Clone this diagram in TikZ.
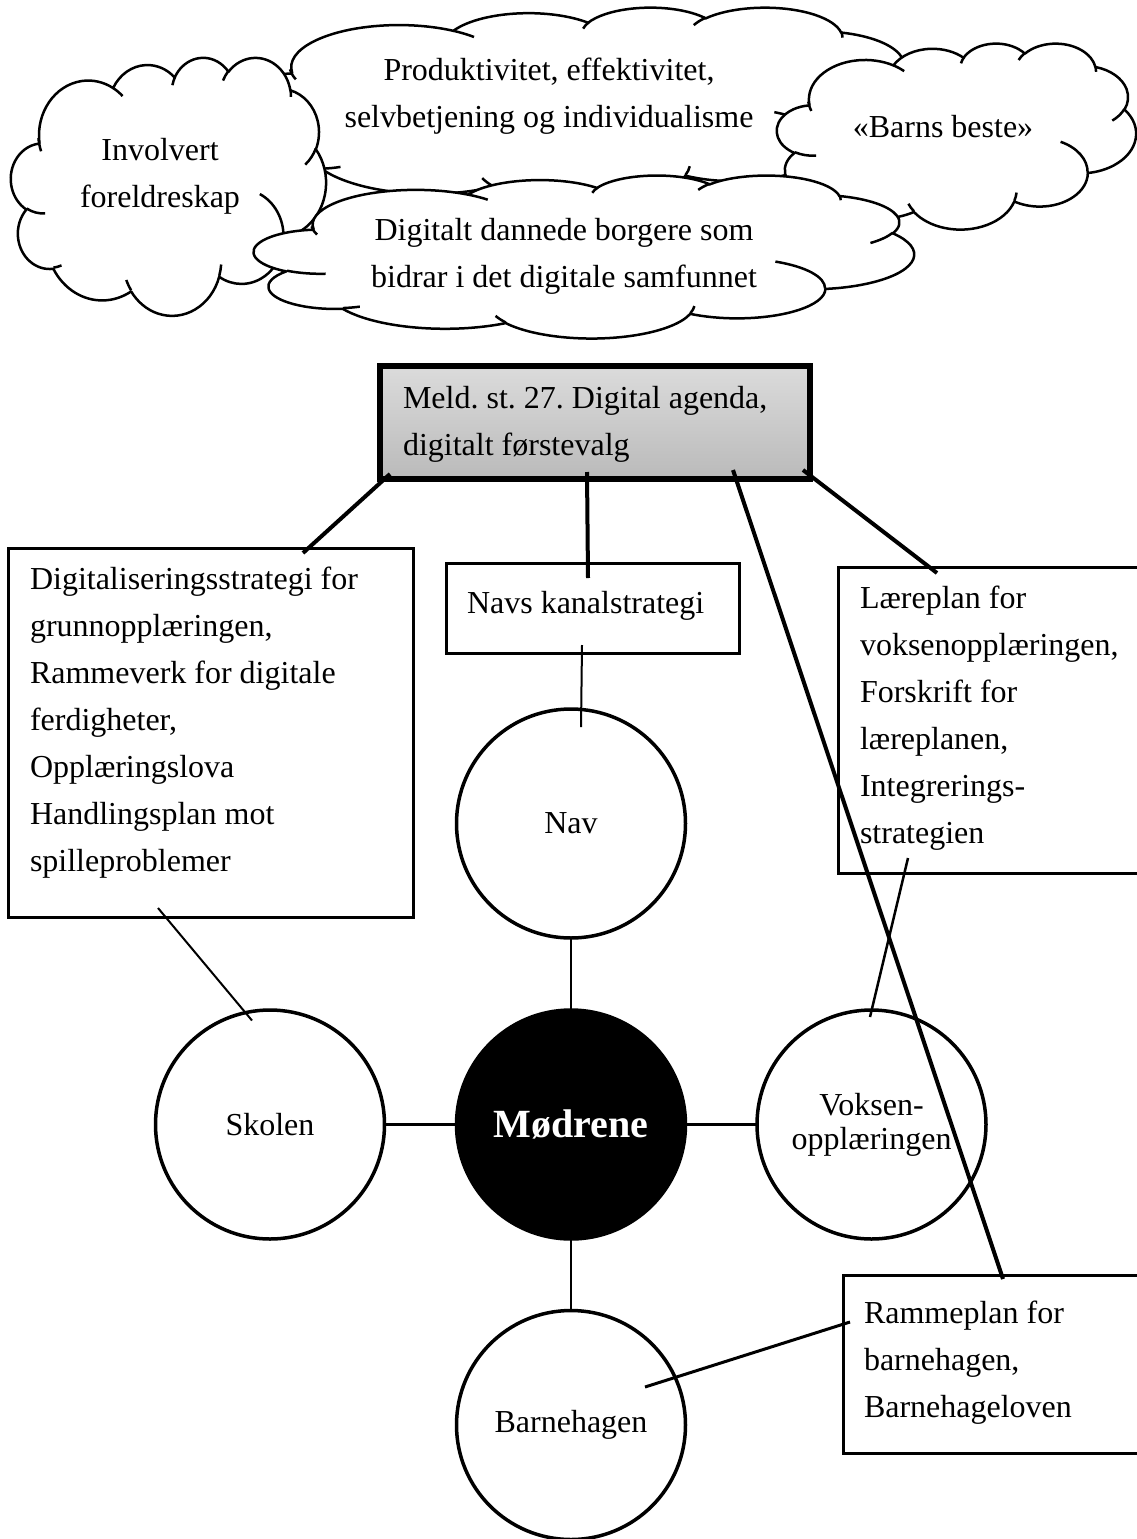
\documentclass[tikz,border=0pt]{standalone}
\usepackage{fontspec}
\setmainfont{Liberation Serif}
\usetikzlibrary{calc}
\tikzset{
  warc/.style n args={4}{insert path={arc[start angle={atan2((#1)*sin(#3),(#2)*cos(#3))}, delta angle={mod(atan2((#1)*sin((#3)+(#4)),(#2)*cos((#3)+(#4)))-atan2((#1)*sin(#3),(#2)*cos(#3))+720,360)}, x radius=#1, y radius=#2]}},
  cloudline/.style={line width=2.5pt, line join=round}
}
\newcommand\wordcloud[4]{%
\begin{scope}[shift={(#1,#2)}, xscale={#3/4320}, yscale={#4/4320}]
\draw[cloudline, fill=white] (390,1437)
  [warc={675.3}{919.0}{-190.48748}{123.78053}]
  [warc={533.3}{726.7}{-144.10238}{89.94523}]
  [warc={436.5}{594.5}{-145.80792}{99.72302}]
  [warc={485.7}{659.5}{-130.98607}{117.24173}]
  [warc={533.3}{727.3}{-78.70888}{109.02692}]
  [warc={677.5}{922.0}{-46.26725}{130.269}]
  [warc={578.5}{786.7}{0.62502}{114.03333}]
  [warc={675.2}{921.5}{22.4516}{115.17255}]
  [warc={772.0}{1054.3}{66.24263}{75.71102}]
  [warc={436.0}{591.8}{-274.94208}{146.73557}]
  [warc={434.5}{594.5}{-246.8285}{152.51885}] -- cycle;
\draw[cloudline]
  (469.3,2617.7) [warc={434.5}{594.5}{86.742}{26.4295}]
  (692.8,3489.9) [warc={436.0}{591.8}{73.61047}{11.44747}]
  (1647.8,3909.0) [warc={675.2}{921.5}{137.62415}{14.0811}]
  (2882.7,3475.1) [warc={675.2}{921.5}{6.45327}{15.99835}]
  (3412.9,2295.4) [warc={578.5}{786.7}{-70.29235}{70.91737}]
  (4179.8,1535.4) [warc={533.3}{727.3}{30.31803}{27.7515}]
  (3832.4,542.6) [warc={485.7}{659.5}{-13.74433}{14.8589}]
  (2907.8,395.2) [warc={485.7}{659.5}{-149.18145}{18.19537}]
  (2214.1,472.0) [warc={436.5}{594.5}{-163.49427}{17.68635}]
  (1400.0,519.2) [warc={675.3}{919.0}{-66.70695}{12.31935}]
  (412.7,1578.9) [warc={675.3}{919.0}{153.94407}{18.31942}];
\end{scope}}
\begin{document}
\begin{tikzpicture}[x=1pt,y=-1pt,
  every node/.style={outer sep=0pt},
  txt/.style={font=\fontsize{32}{47}\selectfont\frenchspacing, inner sep=0pt, align=center},
  docbox/.style={draw, fill=white, line width=3pt, rectangle, anchor=north west, inner ysep=0pt, align=flush left, font=\fontsize{32}{47}\selectfont\frenchspacing},
  actor/.style={circle, draw, fill=white, line width=3.5pt, minimum size=229pt, inner sep=0pt, font=\fontsize{32}{34}\selectfont, align=center},
  heavylink/.style={line width=4pt},
  lightlink/.style={line width=2.5pt}
]
\useasboundingbox (0,0) rectangle (1137,1539);
\fill[white] (0,0) rectangle (1137,1539);
\clip (0,0) rectangle (1137,1539);

% clouds (Word cloud outline, drawn back to front)
\wordcloud{230}{7}{689}{198}
\wordcloud{777}{43}{359}{186}
\wordcloud{11}{57}{315}{258}
\wordcloud{254}{175}{660}{163}

\node[txt] (tprod) at (549,96) {Produktivitet, effektivitet,\\selvbetjening og individualisme};
\node[txt] (tinv) at (160,176) {Involvert\\foreldreskap};
\node[txt, anchor=base] (tbarn) at (943,137) {«Barns beste»};
\node[txt] (tdig) at (564,256) {Digitalt dannede borgere som\\bidrar i det digitale samfunnet};

% grey box
\node[docbox, line width=6.5pt, top color=black!14, bottom color=black!27, minimum width=430pt, text width=384pt, inner xsep=23pt, text height=42pt, text depth=71pt] (meld) at (380,366) {Meld. st. 27. Digital agenda,\\digitalt førstevalg};

% document boxes
\node[docbox, minimum width=405pt, text width=361pt, inner xsep=22pt, text height=41pt, text depth=328pt] (strat) at (8,548) {Digitaliseringsstrategi for\\grunnopplæringen,\\Rammeverk for digitale\\ferdigheter,\\Opplæringslova\\Handlingsplan mot\\spilleproblemer};
\node[docbox, minimum width=293pt, text width=251pt, inner xsep=21pt, text height=50pt, text depth=40pt] (navs) at (446,563) {Navs kanalstrategi};
\node[docbox, minimum width=330pt, text width=286pt, inner xsep=22pt, text height=41pt, text depth=265pt] (laere) at (838,567) {Læreplan for\\voksenopplæringen,\\Forskrift for\\læreplanen,\\Integrerings-\\strategien};
\node[docbox, minimum width=330pt, text width=288pt, inner xsep=21pt, text height=48pt, text depth=130pt] (ramme) at (843,1275) {Rammeplan for\\barnehagen,\\Barnehageloven};

% circles
\node[actor] (nav) at (571,823.5) {Nav};
\node[actor] (skolen) at (270,1124.5) {Skolen};
\node[actor, fill=black, text=white, font=\fontsize{40}{48}\selectfont\bfseries] (modrene) at (571,1124.5) {Mødrene};
\node[actor] (voksen) at (871.5,1124.5) {Voksen-\\opplæringen};
\node[actor] (barnehagen) at (571,1425) {Barnehagen};

% connectors
\draw[lightlink] (nav) -- (modrene);
\draw[lightlink] (skolen) -- (modrene);
\draw[lightlink] (modrene) -- (voksen);
\draw[lightlink] (modrene) -- (barnehagen);

\draw[heavylink] ($(meld.south west)+(10,-5)$) -- ($(strat.north west)+(295,5)$);
\draw[heavylink] ($(meld.south west)+(207,-7)$) -- ($(navs.north west)+(142,15)$);
\draw[heavylink] ($(meld.south east)+(-7,-9)$) -- ($(laere.north west)+(99,6)$);
\draw[heavylink] ($(meld.south east)+(-77,-9)$) -- ($(ramme.north west)+(160,4)$);

\draw[line width=2pt] ($(navs.south west)+(136,-8)$) -- ($(nav.center)+(10,-96.5)$);
\draw[line width=2pt] ($(strat.south west)+(150,-9)$) -- ($(skolen.center)+(-18,-104)$);
\draw[lightlink] ($(laere.south west)+(70,-15)$) -- ($(voksen.center)+(-1.5,-107.5)$);
\draw[line width=3pt] ($(ramme.north west)+(7,47)$) -- ($(barnehagen.center)+(74,-38)$);
\end{tikzpicture}
\end{document}
